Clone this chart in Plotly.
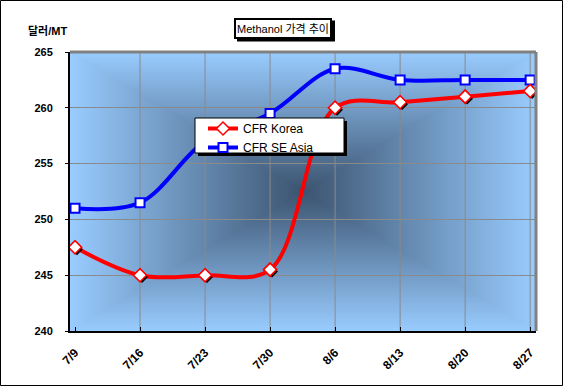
import base64, struct, zlib
import numpy as np
import plotly.graph_objects as go

# ---- data ----
categories = ["7/9", "7/16", "7/23", "7/30", "8/6", "8/13", "8/20", "8/27"]
cfr_korea = [247.5, 245.0, 245.0, 245.5, 260.0, 260.5, 261.0, 261.5]
cfr_se_asia = [251.0, 251.5, 257.0, 259.5, 263.5, 262.5, 262.5, 262.5]
y_ticks = [240, 245, 250, 255, 260, 265]

# ---- layout geometry ----
W, H = 564, 390
L, R, T, B = 70, 28, 52, 59
PW, PH = W - L - R, H - T - B
xr = [-0.077, 7.09]
yr = [240, 265]


def px(x):
    return (x - L) / PW


def py(y):
    return (H - B - y) / PH


# ---- gradient background image (rectangular "from center" gradient) ----
def gradient_png(w, h, c_center, c_edge):
    xs = np.abs(np.linspace(-1, 1, w))[None, :]
    ys = np.abs(np.linspace(-1, 1, h))[:, None]
    t = np.maximum(xs, ys)
    cc = np.array(c_center, float)
    ce = np.array(c_edge, float)
    img = cc[None, None, :] + (ce - cc)[None, None, :] * t[:, :, None]
    img = np.clip(img, 0, 255).astype(np.uint8)
    raw = b"".join(b"\x00" + img[r].tobytes() for r in range(h))

    def chunk(tag, data):
        c = struct.pack(">I", len(data)) + tag + data
        return c + struct.pack(">I", zlib.crc32(tag + data) & 0xFFFFFFFF)

    png = b"\x89PNG\r\n\x1a\n"
    png += chunk(b"IHDR", struct.pack(">IIBBBBB", w, h, 8, 2, 0, 0, 0))
    png += chunk(b"IDAT", zlib.compress(raw, 9))
    png += chunk(b"IEND", b"")
    return "data:image/png;base64," + base64.b64encode(png).decode()


bg_src = gradient_png(PW, PH, (60, 84, 112), (153, 204, 255))

FONT = "Arial, Liberation Sans, Noto Sans CJK KR, sans-serif"
xi = list(range(len(categories)))

fig = go.Figure()

fig.add_trace(go.Scatter(
    x=xi, y=cfr_korea, name="CFR Korea", mode="lines+markers",
    line=dict(color="#ff0000", width=4, shape="spline", smoothing=1),
    marker=dict(symbol="diamond", size=10, color="white",
                line=dict(color="#ff0000", width=1.5)),
))
fig.add_trace(go.Scatter(
    x=xi, y=cfr_se_asia, name="CFR SE Asia", mode="lines+markers",
    line=dict(color="#0000ff", width=4, shape="spline", smoothing=1),
    marker=dict(symbol="square", size=9, color="white",
                line=dict(color="#0000ff", width=2)),
))
# shadow of red markers (overlay axes shifted by a couple of pixels)
dx = 2 * (xr[1] - xr[0]) / PW
dy = 2 * (yr[1] - yr[0]) / PH
fig.add_trace(go.Scatter(
    x=xi, y=cfr_korea, mode="markers", showlegend=False, hoverinfo="skip",
    marker=dict(symbol="diamond", size=9, color="black"),
    xaxis="x2", yaxis="y2",
))
fig.add_trace(go.Scatter(
    x=xi, y=cfr_korea, mode="markers", showlegend=False, hoverinfo="skip",
    marker=dict(symbol="diamond", size=10, color="white",
                line=dict(color="#ff0000", width=1.5)),
    xaxis="x3", yaxis="y3",
))

axis_font = dict(family=FONT, size=11, color="black", weight="bold")

fig.update_layout(
    width=W, height=H,
    margin=dict(l=L, r=R, t=T, b=B),
    paper_bgcolor="white",
    plot_bgcolor="#99ccff",
    font=dict(family=FONT, color="black"),
    xaxis=dict(
        range=xr, tickmode="array", tickvals=xi, ticktext=categories,
        tickangle=-45, tickfont=dict(axis_font, size=12), showgrid=False,
        showline=True, linecolor="black", linewidth=2,
        ticks="inside", ticklen=4, tickcolor="black", zeroline=False,
        ticklabelstandoff=8,
    ),
    yaxis=dict(
        range=yr, tickmode="array", tickvals=y_ticks, tickfont=axis_font,
        showgrid=True, gridcolor="#8a8a8a", gridwidth=1, showline=True,
        linecolor="black", linewidth=2, ticks="outside", ticklen=3,
        tickcolor="black", zeroline=False, ticklabelstandoff=10,
    ),
    xaxis2=dict(range=[xr[0] - dx, xr[1] - dx], overlaying="x", visible=False),
    yaxis2=dict(range=[yr[0] + dy, yr[1] + dy], overlaying="y", visible=False),
    xaxis3=dict(range=xr, overlaying="x", visible=False),
    yaxis3=dict(range=yr, overlaying="y", visible=False),
    legend=dict(
        x=px(203), y=py(114), xanchor="left", yanchor="top",
        bgcolor="rgba(0,0,0,0)", borderwidth=0,
        font=dict(family=FONT, size=12, color="black"),
        tracegroupgap=0, itemwidth=30,
    ),
    images=[dict(
        source=bg_src, xref="paper", yref="paper", x=0, y=1,
        sizex=1, sizey=1, sizing="stretch", layer="below",
        xanchor="left", yanchor="top",
    )],
    showlegend=True,
)

shapes = [
    # gray top and right border of plot area
    dict(type="line", xref="paper", yref="paper", x0=0, x1=1, y0=1, y1=1,
         line=dict(color="#808080", width=3)),
    dict(type="line", xref="paper", yref="paper", x0=1, x1=1, y0=0, y1=1,
         line=dict(color="#808080", width=3)),
    # outer chart border
    dict(type="rect", xref="paper", yref="paper",
         x0=px(0.5), x1=px(562.5), y0=py(385.5), y1=py(0.5),
         line=dict(color="black", width=1)),
    # legend box with drop shadow
    dict(type="rect", xref="paper", yref="paper",
         x0=px(198), x1=px(347), y0=py(156), y1=py(121),
         fillcolor="black", line=dict(width=0)),
    dict(type="rect", xref="paper", yref="paper",
         x0=px(195), x1=px(344), y0=py(153), y1=py(118),
         fillcolor="white", line=dict(color="black", width=1)),
    # title box shadow
    dict(type="rect", xref="paper", yref="paper",
         x0=px(237), x1=px(335), y0=py(41.5), y1=py(20.5),
         fillcolor="black", line=dict(width=0)),
]
# vertical grid lines at every category except the first
for i in xi[1:]:
    shapes.append(dict(type="line", xref="x", yref="paper", x0=i, x1=i,
                       y0=0, y1=1, layer="between",
                       line=dict(color="#8a8a8a", width=1)))
fig.update_layout(shapes=shapes)

fig.add_annotation(
    text="Methanol 가격 추이", xref="paper", yref="paper",
    x=px(283), y=py(28.5), xanchor="center", yanchor="middle",
    showarrow=False, width=92, height=15,
    font=dict(family=FONT, size=11, color="black"),
    bgcolor="white", bordercolor="black", borderwidth=2, borderpad=1,
)
fig.add_annotation(
    text="<b>달러/MT</b>", xref="paper", yref="paper",
    x=px(47), y=py(31), xanchor="center", yanchor="middle", showarrow=False,
    font=dict(family=FONT, size=11, color="black"),
)

fig.write_html("out.html", post_script="document.body.style.margin='0';",
               config={"displayModeBar": False})
